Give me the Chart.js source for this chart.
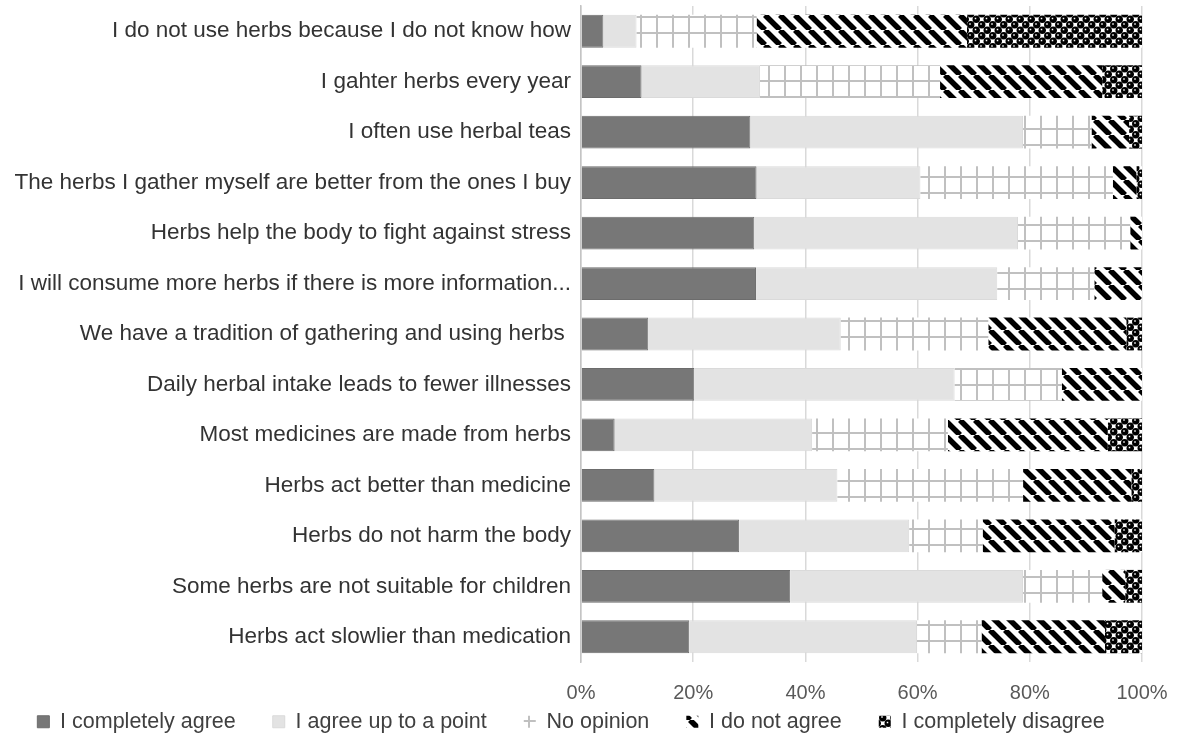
<!DOCTYPE html>
<html>
<head>
<meta charset="utf-8">
<script src="https://cdn.jsdelivr.net/npm/chart.js@4"></script>
<style>
  html, body { margin: 0; padding: 0; background: #fff; }
  #wrap { width: 1177px; height: 737px; }
</style>
</head>
<body>
<div id="wrap"><canvas id="herbsChart" width="1177" height="737"></canvas></div>
<script>
const categories = [
  'I do not use herbs because I do not know how',
  'I gahter herbs every year',
  'I often use herbal teas',
  'The herbs I gather myself are better from the ones I buy',
  'Herbs help the body to fight against stress',
  'I will consume more herbs if there is more information...',
  'We have a tradition of gathering and using herbs ',
  'Daily herbal intake leads to fewer illnesses',
  'Most medicines are made from herbs',
  'Herbs act better than medicine',
  'Herbs do not harm the body',
  'Some herbs are not suitable for children',
  'Herbs act slowlier than medication'
];

const completelyAgree    = [4.0, 10.8, 30.2, 31.3, 30.9, 31.2, 12.0, 20.2, 6.0, 13.1, 28.2, 37.3, 19.3];
const agreeUpToPoint     = [5.9, 21.1, 48.6, 29.2, 47.0, 43.0, 34.3, 46.4, 35.2, 32.6, 30.3, 41.5, 40.6];
const noOpinion          = [21.4, 32.1, 12.2, 34.3, 20.0, 17.3, 26.3, 19.1, 24.2, 33.1, 13.1, 14.1, 11.5];
const doNotAgree         = [37.5, 28.9, 6.7, 4.2, 2.1, 8.5, 24.6, 14.3, 28.5, 19.3, 23.5, 4.1, 22.0];
const completelyDisagree = [31.2, 7.1, 2.3, 1.0, 0.0, 0.0, 2.8, 0.0, 6.1, 1.9, 4.9, 3.0, 6.6];

const seriesNames = ['I completely agree', 'I agree up to a point', 'No opinion', 'I do not agree', 'I completely disagree'];
const xTicks = [0, 20, 40, 60, 80, 100];

const ctx = document.getElementById('herbsChart').getContext('2d');

// small tiles for the excel-like fill patterns
function makePattern(size, draw) {
  const c = document.createElement('canvas');
  c.width = size; c.height = size;
  const g = c.getContext('2d');
  draw(g, size);
  return ctx.createPattern(c, 'repeat');
}

const gridPattern = makePattern(16, (g, s) => {
  g.fillStyle = '#fff';
  g.fillRect(0, 0, s, s);
  g.fillStyle = '#c0c0c0';
  g.fillRect(0, 0, 2, s);
  g.fillRect(0, 0, s, 2);
});

const stripePattern = makePattern(15, (g, s) => {
  g.fillStyle = '#fff';
  g.fillRect(0, 0, s, s);
  g.strokeStyle = '#000';
  g.lineWidth = 5.5;
  for (let k = -1; k <= 1; k++) {
    g.beginPath();
    g.moveTo(k * s, 0);
    g.lineTo(k * s + s, s);
    g.stroke();
  }
});

const dotPattern = makePattern(11, (g, s) => {
  g.fillStyle = '#fff';
  g.fillRect(0, 0, s, s);
  const centers = [];
  for (let dx = -1; dx <= 1; dx++) {
    for (let dy = -1; dy <= 1; dy++) {
      centers.push([2.75 + dx * s, 2.75 + dy * s]);
      centers.push([8.25 + dx * s, 8.25 + dy * s]);
    }
  }
  g.fillStyle = '#000';
  centers.forEach(p => {
    g.beginPath();
    g.arc(p[0], p[1], 3.7, 0, Math.PI * 2);
    g.fill();
  });
  g.fillStyle = '#fff';
  centers.forEach(p => {
    g.fillRect(p[0] - 1.5, p[1] - 1.5, 1.5, 1.5);
  });
});

const fills = ['#777777', '#e3e3e3', gridPattern, stripePattern, dotPattern];
const borders = ['#6c6c6c', '#dadada', '#c0c0c0', '#000', '#000'];
const values = [completelyAgree, agreeUpToPoint, noOpinion, doNotAgree, completelyDisagree];

const datasets = [];
for (let i = 0; i < seriesNames.length; i++) {
  datasets.push({
    label: seriesNames[i],
    data: values[i],
    backgroundColor: fills[i],
    borderColor: borders[i],
    borderWidth: i < 2 ? 1 : 0,
    barPercentage: 0.65,
    categoryPercentage: 1.0
  });
}

new Chart(ctx, {
  type: 'bar',
  data: { labels: categories, datasets },
  options: {
    indexAxis: 'y',
    responsive: false,
    animation: false,
    layout: { padding: { top: 6, right: 35, left: 0, bottom: 0 } },
    plugins: {
      tooltip: { enabled: false },
      legend: {
        position: 'bottom',
        maxHeight: 63,
        labels: {
          boxWidth: 12,
          boxHeight: 12,
          padding: 37,
          color: '#404040',
          font: { family: 'Liberation Sans', size: 21.5 }
        }
      }
    },
    scales: {
      x: {
        stacked: true,
        min: 0,
        max: 100,
        afterBuildTicks: (scale) => { scale.ticks = xTicks.map(v => ({ value: v })); },
        afterFit: (scale) => {
          scale.height = 12;
          scale.paddingLeft = 0;
          scale.paddingRight = 0;
        },
        ticks: {
          // mirror keeps the labels from being clipped to the thin axis box
          mirror: true,
          callback: (v) => v + '%',
          color: '#595959',
          padding: -43,
          font: { family: 'Liberation Sans', size: 20 }
        },
        grid: { color: '#d9d9d9', lineWidth: 1.5, drawTicks: false },
        border: { display: false }
      },
      y: {
        stacked: true,
        afterFit: (scale) => {
          scale.width = 581;
          scale.paddingTop = 0;
          scale.paddingBottom = 0;
        },
        ticks: {
          color: '#333333',
          padding: 10,
          font: { family: 'Liberation Sans', size: 22.5 }
        },
        grid: { display: false, drawTicks: false },
        border: { display: true, color: '#c4c4c4', width: 1.5 }
      }
    }
  }
});
</script>
</body>
</html>
